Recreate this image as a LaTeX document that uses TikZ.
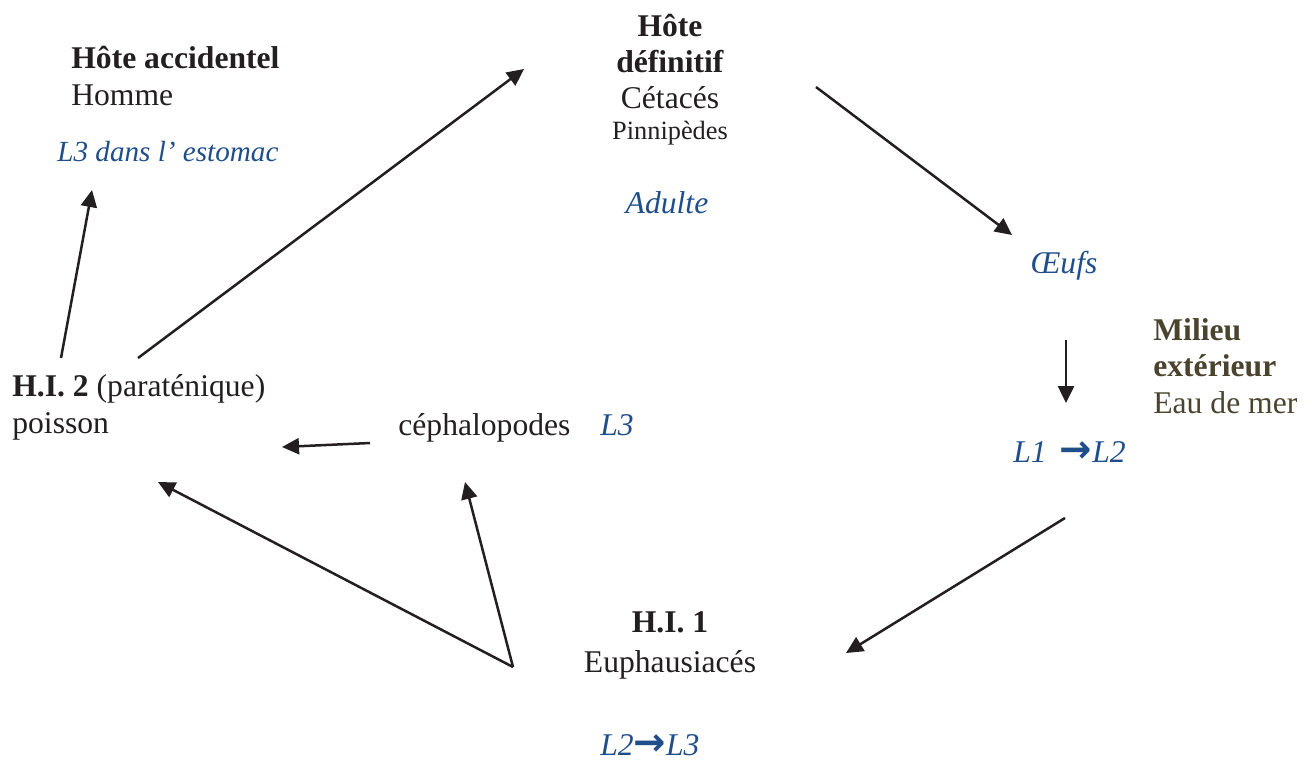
\documentclass[tikz,border=0pt]{standalone}
\usepackage{fontspec}
\setmainfont{Liberation Serif}
\newfontfamily\arrowfont{DejaVu Sans}
\usetikzlibrary{arrows.meta}
\definecolor{larvablue}{RGB}{31,78,138}
\definecolor{milieubrown}{RGB}{74,68,46}
\definecolor{inkblack}{RGB}{35,31,32}
\newcommand{\stagearrow}{{\arrowfont\bfseries\upshape\fontsize{22}{22}\selectfont →}}
\tikzset{
	host/.style={inner sep=0pt, text=inkblack, font=\fontsize{18}{20.5}\selectfont},
	stage/.style={inner sep=0pt, text=larvablue, font=\fontsize{18}{20.5}\selectfont\itshape},
	lifearrow/.style={line width=0.05cm, draw=inkblack, -{Triangle[length=0.34cm,width=0.32cm]}},
}

\begin{document}
\begin{tikzpicture}[x=0.02cm, y=-0.02cm]
			%%%%% START %%%%%
			
			\useasboundingbox (0, 0) rectangle (1312, 762);
			
			\node[host, anchor=base west, align=left] (accidental) at (71, 105) {\textbf{Hôte accidentel}\\Homme};
			\node[stage, font=\fontsize{16.6}{20}\selectfont\itshape, anchor=base west] (stomach) at (57, 161) {L3 dans l’ estomac};
			
			\node[host, anchor=base, align=center] (definitive) at (670, 139) {\textbf{Hôte}\\\textbf{définitif}\\Cétacés\\[-3pt]{\fontsize{15}{17}\selectfont Pinnipèdes}};
			\node[stage, anchor=base] (adult) at (667, 213) {Adulte};
			
			\node[stage, anchor=base] (eggs) at (1064, 273) {Œufs};
			\node[host, text=milieubrown, anchor=base west, align=left] (milieu) at (1153, 413) {\textbf{Milieu}\\\textbf{extérieur}\\Eau de mer};
			\node[stage, anchor=base west] (larvaeA) at (1013, 462) {L1 \,\stagearrow L2};
			
			\node[host, anchor=base, align=center] (hi1) at (670, 672) {\textbf{H.I. 1}\\[2pt]Euphausiacés};
			\node[stage, anchor=base west] (larvaeB) at (600, 755) {L2\stagearrow L3};
			
			\node[host, anchor=base west] (cephalo) at (398, 435) {céphalopodes};
			\node[stage, anchor=base west] (cephaloL3) at (600, 435) {L3};
			
			\node[host, anchor=base west, align=left] (hi2) at (12, 433) {\textbf{H.I. 2} (paraténique)\\poisson};
			
			% arrow ends
			\coordinate (hi2-up) at (61, 358);
			\coordinate (stomach-in) at (92, 190);
			\coordinate (hi2-out) at (138, 358);
			\coordinate (definitive-in) at (524, 69);
			\coordinate (definitive-out) at (816, 87);
			\coordinate (eggs-in) at (1012, 235);
			\coordinate (eggs-out) at (1066, 340);
			\coordinate (larvaeA-in) at (1066, 403);
			\coordinate (larvaeA-out) at (1065, 518);
			\coordinate (hi1-in) at (846, 653);
			\coordinate (hi1-out) at (513, 667);
			\coordinate (hi2-in) at (158, 482);
			\coordinate (cephalo-in) at (465, 482);
			\coordinate (cephalo-out) at (370, 443);
			\coordinate (poisson-in) at (282, 447);
			
			\draw[lifearrow] (hi2-up) -- (stomach-in);
			\draw[lifearrow] (hi2-out) -- (definitive-in);
			\draw[lifearrow] (definitive-out) -- (eggs-in);
			\draw[lifearrow] (eggs-out) -- (larvaeA-in);
			\draw[lifearrow] (larvaeA-out) -- (hi1-in);
			\draw[lifearrow] (hi1-out) -- (hi2-in);
			\draw[lifearrow] (hi1-out) -- (cephalo-in);
			\draw[lifearrow] (cephalo-out) -- (poisson-in);
			
			%%%%% END %%%%%
\end{tikzpicture}
\end{document}
